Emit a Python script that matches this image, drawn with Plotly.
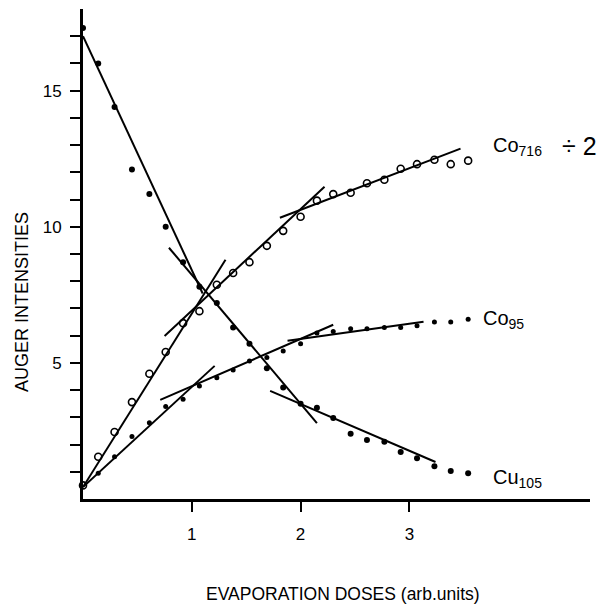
import plotly.graph_objects as go

# ---- data ----
dose = [0, 0.14, 0.29, 0.45, 0.61, 0.76, 0.92, 1.07, 1.23, 1.38, 1.53, 1.69,
        1.84, 2.00, 2.15, 2.30, 2.46, 2.61, 2.77, 2.92, 3.07, 3.23, 3.38, 3.54]
cu105 = [17.3, 16.0, 14.4, 12.1, 11.2, 10.0, 8.7, 7.8, 7.2, 6.3, 5.7, 4.8,
         4.1, 3.5, 3.35, 2.98, 2.4, 2.17, 2.1, 1.73, 1.5, 1.2, 1.03, 0.95]
co716 = [0.5, 1.55, 2.46, 3.56, 4.6, 5.4, 6.46, 6.9, 7.87, 8.3, 8.7, 9.3,
         9.85, 10.37, 10.96, 11.2, 11.25, 11.6, 11.73, 12.13, 12.3, 12.46, 12.3, 12.43]
co95_dose = dose[1:]
co95 = [0.95, 1.55, 2.3, 2.8, 3.4, 3.66, 4.15, 4.45, 4.74, 5.07, 5.2,
        5.44, 5.7, 6.1, 6.15, 6.25, 6.25, 6.3, 6.3, 6.36, 6.5, 6.5, 6.6]

# straight-line fits drawn on the figure: [x_start, x_end], [y_start, y_end]
cu105_fits = [([0.0, 1.10], [17.0, 7.55]),
              ([0.79, 2.15], [9.23, 2.79]),
              ([1.72, 3.24], [3.97, 1.36])]
co716_fits = [([0.0, 1.31], [0.44, 8.79]),
              ([0.75, 2.22], [5.99, 11.47]),
              ([1.81, 3.47], [10.33, 12.87])]
co95_fits = [([0.0, 1.21], [0.44, 4.89]),
             ([0.71, 2.30], [3.64, 6.40]),
             ([1.88, 3.13], [5.81, 6.51])]

y_ticks = list(range(1, 18))
y_ticklabels = {5: "5", 10: "10", 15: "15"}
x_ticks = [1, 2, 3]

FONT = "Liberation Sans"

fig = go.Figure()

for fits in (cu105_fits, co716_fits, co95_fits):
    for xs, ys in fits:
        fig.add_trace(go.Scatter(x=xs, y=ys, mode="lines",
                                 line=dict(color="black", width=2),
                                 cliponaxis=False, showlegend=False, hoverinfo="skip"))

fig.add_trace(go.Scatter(x=dose, y=cu105, mode="markers", name="Cu105",
                         marker=dict(symbol="circle", size=6, color="black"),
                         cliponaxis=False, showlegend=False))
fig.add_trace(go.Scatter(x=co95_dose, y=co95, mode="markers", name="Co95",
                         marker=dict(symbol="circle", size=5, color="black"),
                         cliponaxis=False, showlegend=False))
fig.add_trace(go.Scatter(x=dose, y=co716, mode="markers", name="Co716",
                         marker=dict(symbol="circle-open", size=7, color="black",
                                     line=dict(width=1.6)),
                         cliponaxis=False, showlegend=False))

fig.update_layout(
    width=601, height=608,
    margin=dict(l=83, r=11, t=9, b=109),
    paper_bgcolor="white", plot_bgcolor="white",
    font=dict(family=FONT, size=16, color="black"),
    xaxis=dict(range=[0, 4.66], showgrid=False, zeroline=False,
               showline=True, linecolor="black", linewidth=3,
               tickvals=x_ticks, ticktext=[str(v) for v in x_ticks],
               ticks="outside", ticklen=10, tickwidth=2, tickcolor="black",
               ticklabelstandoff=8,
               tickfont=dict(family=FONT, size=17)),
    yaxis=dict(range=[0, 18], showgrid=False, zeroline=False,
               showline=True, linecolor="black", linewidth=3,
               tickvals=y_ticks,
               ticktext=[y_ticklabels.get(v, "") for v in y_ticks],
               ticks="outside", ticklen=10, tickwidth=2, tickcolor="black",
               ticklabelstandoff=5,
               tickfont=dict(family=FONT, size=17)),
    annotations=[
        dict(x=3.75, y=12.95, xref="x", yref="y", xanchor="left", yanchor="middle",
             text="Co<sub>716</sub>", showarrow=False,
             font=dict(family=FONT, size=20)),
        dict(x=4.38, y=12.95, xref="x", yref="y", xanchor="left", yanchor="middle",
             text="÷ 2", showarrow=False,
             font=dict(family=FONT, size=25)),
        dict(x=3.66, y=6.6, xref="x", yref="y", xanchor="left", yanchor="middle",
             text="Co<sub>95</sub>", showarrow=False,
             font=dict(family=FONT, size=20)),
        dict(x=3.75, y=0.75, xref="x", yref="y", xanchor="left", yanchor="middle",
             text="Cu<sub>105</sub>", showarrow=False,
             font=dict(family=FONT, size=20)),
        dict(x=22, y=302, xref="paper", yref="paper", showarrow=False,
             xanchor="center", yanchor="middle",
             text="AUGER INTENSITIES", textangle=-90,
             font=dict(family=FONT, size=18)),
        dict(x=343, y=594, xref="paper", yref="paper", showarrow=False,
             xanchor="center", yanchor="middle",
             text="EVAPORATION DOSES (arb.units)",
             font=dict(family=FONT, size=17.5)),
    ],
)

# convert the two pixel-positioned titles to paper coordinates
pw, ph = 601 - 83 - 11, 608 - 9 - 109
for ann in fig.layout.annotations:
    if ann.xref == "paper":
        px, py = ann.x, ann.y
        ann.x = (px - 83) / pw
        ann.y = 1 - (py - 9) / ph

fig.write_html("out.html")
